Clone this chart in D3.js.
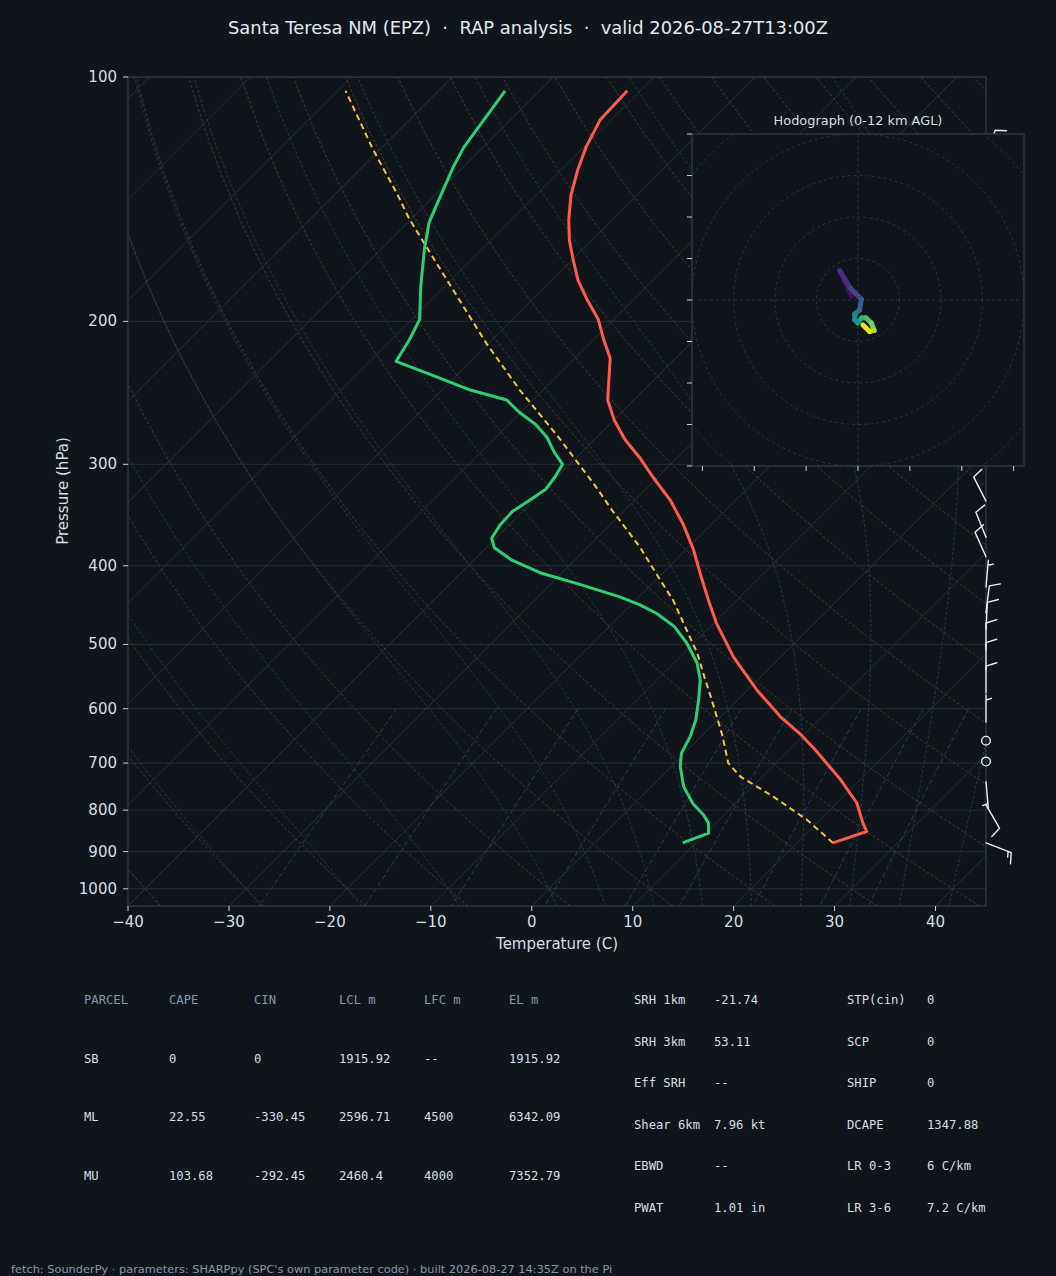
<!DOCTYPE html>
<html>
<head>
<meta charset="utf-8">
<title>Santa Teresa NM (EPZ) sounding</title>
<script src="https://cdn.jsdelivr.net/npm/d3@7/dist/d3.min.js"></script>
<style>
  html, body { margin: 0; padding: 0; background: #10151c; }
  svg { display: block; font-family: "DejaVu Sans", sans-serif; }
</style>
</head>
<body>
<svg id="chart" width="1056" height="1276"></svg>
<script>
// ---- sounding (hPa / degC) ----
const tempP = [878, 850, 830, 784, 734, 704, 674, 646, 614, 569, 518, 471, 441, 413, 382, 355, 332, 311, 294, 280,
               265, 250, 236, 222, 211, 199, 188, 178, 168, 159, 150, 140, 130, 122, 113, 104];
const tempC = [23.6, 25.8, 24.6, 22.0, 18.1, 15.4, 12.6, 9.7, 5.9, 0.9, -4.7, -9.7, -12.8, -15.8, -19.3, -22.9, -26.5, -30.5, -33.8, -36.9,
               -39.9, -42.6, -44.5, -46.5, -48.9, -51.5, -54.6, -57.4, -59.9, -62.2, -64.3, -66.5, -68.4, -69.8, -71.1, -71.3];

const dewP = [878, 854, 830, 811, 785, 748, 707, 681, 649, 619, 585, 553, 527, 498, 475, 458, 447, 437, 422, 408,
              393, 380, 370, 356, 343, 332, 322, 311, 300, 290, 278, 268, 259, 250, 243, 232, 224, 211, 199, 181,
              163, 151, 140, 129, 122, 104];
const dewC = [8.7, 10.3, 9.3, 8.0, 5.8, 3.2, 0.9, -0.3, -1.1, -2.2, -3.9, -5.7, -7.7, -10.7, -13.6, -16.6, -19.1, -21.9, -27.0, -32.2,
              -36.4, -39.2, -40.4, -40.9, -41.0, -40.4, -39.9, -40.2, -40.7, -42.7, -44.9, -47.3, -50.1, -52.6, -57.2, -63.0, -67.4, -68.2, -69.2, -72.4,
              -75.7, -77.9, -79.4, -81.0, -81.9, -83.4];

const parcelP = [878, 822, 770, 727, 700, 649, 625, 585, 553, 512, 480, 441, 409, 379, 342, 318, 296, 276, 260, 243,
                 213, 183, 162, 149, 139, 123, 104];
const parcelC = [23.6, 18.7, 13.1, 7.8, 5.3, 2.1, 0.4, -2.6, -5.2, -8.7, -12.0, -16.3, -20.6, -24.9, -31.2, -35.5, -39.9, -44.2, -48.0, -52.3,
                 -60.2, -68.8, -75.7, -80.4, -84.0, -90.6, -99.2];

// wind barbs down the right edge
const windP   = [878, 788, 738, 697, 657, 623, 574, 537, 508, 479, 457, 425, 390, 369, 333, 300, 250, 200, 150, 125];
const windDir = [111, 150, 175, 0, 0, 0, 0, 0, 0, 3, 7, 5, 336, 338, 333, 340, 330, 320, 330, 20];
const windKt  = [15, 10, 5, 0, 0, 5, 10, 10, 10, 10, 10, 5, 10, 10, 10, 10, 10, 10, 10, 10];

// hodograph trace (kt), coloured by height AGL
const hodoU  = [-1.6, -4.4, -1.8, 0.8, 0.4, -0.8, -0.8, -0.1, 0.9, 1.9, 3.2, 3.9, 2.8, 1.2];
const hodoV  = [1.0, 7.1, 2.8, 0.2, -2.4, -3.4, -4.8, -5.5, -4.3, -4.3, -5.5, -7.3, -7.6, -6.0];
const hodoKm = [0, 1, 2, 3, 4, 5, 5.7, 6.3, 7, 8, 9, 10, 11, 12];

// axis ticks
const pressureTicks = [100, 200, 300, 400, 500, 600, 700, 800, 900, 1000];
const tempTicks = [-40, -30, -20, -10, 0, 10, 20, 30, 40];
const hodoTicksU = [-37.5, -25, -12.5, 0, 12.5, 25, 37.5];
const hodoTicksV = [-40, -30, -20, -10, 0, 10, 20, 30, 40];
const hodoRings = [10, 20, 30, 40, 50];

// parameter table
const tableHeaders = ['PARCEL', 'CAPE', 'CIN', 'LCL m', 'LFC m', 'EL m'];
const parcelNames = ['SB', 'ML', 'MU'];
const parcelCape = ['0', '22.55', '103.68'];
const parcelCin = ['0', '-330.45', '-292.45'];
const parcelLcl = ['1915.92', '2596.71', '2460.4'];
const parcelLfc = ['--', '4500', '4000'];
const parcelEl = ['1915.92', '6342.09', '7352.79'];
const kinLabels = ['SRH 1km', 'SRH 3km', 'Eff SRH', 'Shear 6km', 'EBWD', 'PWAT'];
const kinValues = ['-21.74', '53.11', '--', '7.96 kt', '--', '1.01 in'];
const compLabels = ['STP(cin)', 'SCP', 'SHIP', 'DCAPE', 'LR 0-3', 'LR 3-6'];
const compValues = ['0', '0', '0', '1347.88', '6 C/km', '7.2 C/km'];

const W = 1056, H = 1276;
const BG = '#10151c';
const FRAME = '#333d4b';
const TXT = '#d7dde5';

const svg = d3.select('#chart');
const defs = svg.append('defs');
svg.append('rect').attr('width', W).attr('height', H).attr('fill', BG);

const box = { left: 128, right: 986, top: 77, bottom: 906 };
const x = d3.scaleLinear().domain([-40, 45]).range([box.left, box.right]);
const y = d3.scaleLog().domain([1050, 100]).range([box.bottom, box.top]);
const skew = 1.0; // isotherms at 45 degrees
const sx = (t, p) => x(t) + (box.bottom - y(p)) * skew;
const profLine = d3.line().x(d => sx(d[1], d[0])).y(d => y(d[0]));

defs.append('clipPath').attr('id', 'skewClip').append('rect')
  .attr('x', box.left).attr('y', box.top)
  .attr('width', box.right - box.left).attr('height', box.bottom - box.top);

const bgLayer = svg.append('g').attr('clip-path', 'url(#skewClip)').attr('fill', 'none');

// pressure grid
bgLayer.selectAll('line.pgrid').data(pressureTicks).join('line')
  .attr('x1', box.left).attr('x2', box.right)
  .attr('y1', d => y(d)).attr('y2', d => y(d))
  .attr('stroke', '#262e39').attr('stroke-width', 1);

// isotherms
bgLayer.selectAll('line.iso').data(d3.range(-170, 50, 10)).join('line')
  .attr('x1', d => x(d)).attr('y1', box.bottom)
  .attr('x2', d => x(d) + (box.bottom - box.top) * skew).attr('y2', box.top)
  .attr('stroke', '#29313c').attr('stroke-width', 1);

// dry adiabats
const pLevels = d3.range(60).map(i => 1050 - i * 950 / 59);
const dryT0 = d3.range(-40, 246, 10);
bgLayer.selectAll('path.dry').data(dryT0).join('path')
  .attr('d', t0 => profLine(pLevels.map(p => [p, (t0 + 273.15) * Math.pow(p / 1000, 0.2857) - 273.15])))
  .attr('stroke', '#4a3b2a').attr('stroke-width', 1).attr('stroke-dasharray', '3,2');

// moist adiabats
function moistDTdp(p, T) {
  const Rd = 287.047, Cp = 1004.67, Lv = 2.50084e6, eps = 0.62196;
  const es = 6.112 * Math.exp(17.67 * (T - 273.15) / (T - 29.65));
  const rs = eps * es / Math.max(p - es, 1);
  return (Rd * T + Lv * rs) / (Cp + Lv * Lv * rs * eps / (Rd * T * T)) / p;
}
function rk4(p, T, h) {
  const k1 = moistDTdp(p, T);
  const k2 = moistDTdp(p + h / 2, T + h / 2 * k1);
  const k3 = moistDTdp(p + h / 2, T + h / 2 * k2);
  const k4 = moistDTdp(p + h, T + h * k3);
  return T + h / 6 * (k1 + 2 * k2 + 2 * k3 + k4);
}
function moistCurve(t0) {
  let T = t0 + 273.15;
  const pts = [[1050, rk4(1000, T, 50) - 273.15], [1000, t0]];
  for (let p = 1000; p > 100; p -= 10) {
    T = rk4(p, T, -10);
    pts.push([p - 10, T - 273.15]);
  }
  return pts;
}
const moistT0 = d3.range(-40, 0, 10).concat(d3.range(0, 61, 5));
bgLayer.selectAll('path.moist').data(moistT0).join('path')
  .attr('d', t0 => profLine(moistCurve(t0)))
  .attr('stroke', '#233c46').attr('stroke-width', 1).attr('stroke-dasharray', '3,2');

// mixing ratio lines
const mixW = [0.0004, 0.001, 0.002, 0.004, 0.007, 0.01, 0.016, 0.024, 0.032];
const mixP = d3.range(50).map(i => 600 + i * 450 / 49);
const dewFromW = (p, w) => {
  const l = Math.log(p * w / (0.622 + w) / 6.112);
  return 243.5 * l / (17.67 - l);
};
bgLayer.selectAll('path.mix').data(mixW).join('path')
  .attr('d', w => profLine(mixP.map(p => [p, dewFromW(p, w)])))
  .attr('stroke', '#2b4058').attr('stroke-width', 1).attr('stroke-dasharray', '5,3');

// profiles
const prof = svg.append('g').attr('clip-path', 'url(#skewClip)').attr('fill', 'none')
  .attr('stroke-linejoin', 'round');
prof.append('path').attr('d', profLine(d3.zip(parcelP, parcelC)))
  .attr('stroke', '#f4c542').attr('stroke-width', 2).attr('stroke-dasharray', '6,4');
prof.append('path').attr('d', profLine(d3.zip(dewP, dewC)))
  .attr('stroke', '#2ecf74').attr('stroke-width', 3);
prof.append('path').attr('d', profLine(d3.zip(tempP, tempC)))
  .attr('stroke', '#ff5a4e').attr('stroke-width', 3);

// frame and axes
svg.append('rect').attr('x', box.left).attr('y', box.top)
  .attr('width', box.right - box.left).attr('height', box.bottom - box.top)
  .attr('fill', 'none').attr('stroke', FRAME).attr('stroke-width', 1.2);

const yAx = svg.append('g');
pressureTicks.forEach(p => {
  yAx.append('line').attr('x1', box.left - 5).attr('x2', box.left).attr('y1', y(p)).attr('y2', y(p))
    .attr('stroke', '#c9d1db').attr('stroke-width', 1);
  yAx.append('text').attr('x', box.left - 11).attr('y', y(p)).attr('text-anchor', 'end')
    .attr('dominant-baseline', 'central').attr('font-size', 15).attr('fill', TXT).text(p);
});
const xAx = svg.append('g');
tempTicks.forEach(t => {
  xAx.append('line').attr('x1', x(t)).attr('x2', x(t)).attr('y1', box.bottom).attr('y2', box.bottom + 5)
    .attr('stroke', '#c9d1db').attr('stroke-width', 1);
  xAx.append('text').attr('x', x(t)).attr('y', 922).attr('text-anchor', 'middle')
    .attr('dominant-baseline', 'central').attr('font-size', 15).attr('fill', TXT)
    .text(t < 0 ? '\u2212' + Math.abs(t) : t);
});
svg.append('text').attr('x', 557).attr('y', 944).attr('text-anchor', 'middle')
  .attr('dominant-baseline', 'central').attr('font-size', 15).attr('fill', TXT).text('Temperature (C)');
svg.append('text').attr('transform', 'translate(63,491) rotate(-90)').attr('text-anchor', 'middle')
  .attr('dominant-baseline', 'central').attr('font-size', 15).attr('fill', TXT).text('Pressure (hPa)');

svg.append('text').attr('x', 528).attr('y', 27).attr('text-anchor', 'middle')
  .attr('dominant-baseline', 'central').attr('font-size', 17.9).attr('fill', '#e4e9ef')
  .style('white-space', 'pre')
  .text('Santa Teresa NM (EPZ)  \u00b7  RAP analysis  \u00b7  valid 2026-08-27T13:00Z');

// wind barbs
const barbLen = 27;
const barbs = svg.append('g').attr('stroke', '#e8edf3').attr('stroke-width', 1.4)
  .attr('fill', 'none').attr('stroke-linecap', 'round');
windP.forEach((p, i) => {
  const bx = box.right, by = y(p);
  const kt = Math.round(windKt[i] / 5) * 5;
  if (kt === 0) {
    barbs.append('circle').attr('cx', bx).attr('cy', by).attr('r', 0.16 * barbLen);
    return;
  }
  const a = windDir[i] * Math.PI / 180;
  const s = [Math.sin(a), -Math.cos(a)];
  const q = [-s[1], s[0]];
  const pt = (along, side) => [bx + s[0] * along + q[0] * side, by + s[1] * along + q[1] * side];
  const sp = 0.125 * barbLen, hgt = 0.4 * barbLen, wid = 0.25 * barbLen;
  const segs = [[pt(0, 0), pt(barbLen, 0)]];
  const full = Math.floor(kt / 10), half = kt % 10 >= 5;
  let off = barbLen;
  for (let k = 0; k < full; k++) { segs.push([pt(off, 0), pt(off + wid / 2, hgt)]); off -= sp; }
  if (half) {
    if (full === 0) off -= 1.5 * sp;
    segs.push([pt(off, 0), pt(off + wid / 4, hgt / 2)]);
  }
  barbs.append('path').attr('d', segs.map(sg => 'M' + sg[0] + 'L' + sg[1]).join(''));
});

// hodograph inset
const hodo = { x: 692, y: 134, size: 332 };
const hu = d3.scaleLinear().domain([-40, 40]).range([hodo.x, hodo.x + hodo.size]);
const hv = d3.scaleLinear().domain([-40, 40]).range([hodo.y + hodo.size, hodo.y]);
defs.append('clipPath').attr('id', 'hodoClip').append('rect')
  .attr('x', hodo.x).attr('y', hodo.y).attr('width', hodo.size).attr('height', hodo.size);
const hg = svg.append('g');
hg.append('rect').attr('x', hodo.x).attr('y', hodo.y).attr('width', hodo.size).attr('height', hodo.size)
  .attr('fill', BG);
const hin = hg.append('g').attr('clip-path', 'url(#hodoClip)');
hin.selectAll('circle').data(hodoRings).join('circle')
  .attr('cx', hu(0)).attr('cy', hv(0)).attr('r', d => hu(d) - hu(0))
  .attr('fill', 'none').attr('stroke', '#2c3643').attr('stroke-width', 1).attr('stroke-dasharray', '3,3');
hin.append('line').attr('x1', hodo.x).attr('x2', hodo.x + hodo.size).attr('y1', hv(0)).attr('y2', hv(0))
  .attr('stroke', '#2c3643').attr('stroke-dasharray', '3,3');
hin.append('line').attr('y1', hodo.y).attr('y2', hodo.y + hodo.size).attr('x1', hu(0)).attr('x2', hu(0))
  .attr('stroke', '#2c3643').attr('stroke-dasharray', '3,3');
const hodoPts = d3.zip(hodoU, hodoV, hodoKm);
hin.selectAll('line.trace').data(d3.pairs(hodoPts)).join('line')
  .attr('x1', d => hu(d[0][0])).attr('y1', d => hv(d[0][1]))
  .attr('x2', d => hu(d[1][0])).attr('y2', d => hv(d[1][1]))
  .attr('stroke', d => d3.interpolateViridis((d[0][2] + d[1][2]) / 2 / 12))
  .attr('stroke-width', 5).attr('stroke-linecap', 'round');
hg.append('rect').attr('x', hodo.x).attr('y', hodo.y).attr('width', hodo.size).attr('height', hodo.size)
  .attr('fill', 'none').attr('stroke', FRAME).attr('stroke-width', 1.2);
hodoTicksV.forEach(v => hg.append('line').attr('x1', hodo.x - 5).attr('x2', hodo.x)
  .attr('y1', hv(v)).attr('y2', hv(v)).attr('stroke', '#c9d1db'));
hodoTicksU.forEach(u => hg.append('line').attr('y1', hodo.y + hodo.size).attr('y2', hodo.y + hodo.size + 5)
  .attr('x1', hu(u)).attr('x2', hu(u)).attr('stroke', '#c9d1db'));
hg.append('text').attr('x', hodo.x + hodo.size / 2).attr('y', 120).attr('text-anchor', 'middle')
  .attr('dominant-baseline', 'central').attr('font-size', 12.9).attr('fill', TXT)
  .text('Hodograph (0-12 km AGL)');

// parameter table
const tbl = svg.append('g').attr('font-family', '"DejaVu Sans Mono", monospace').attr('font-size', 12.2)
  .style('white-space', 'pre');
const colX = [84, 169, 254, 339, 424, 509];
const rowY = [1000, 1058.5, 1117, 1175.5];
tableHeaders.forEach((h, i) => tbl.append('text').attr('x', colX[i]).attr('y', rowY[0])
  .attr('dominant-baseline', 'central').attr('fill', '#8796ab').text(h));
[parcelNames, parcelCape, parcelCin, parcelLcl, parcelLfc, parcelEl].forEach((col, c) =>
  col.forEach((v, r) => tbl.append('text').attr('x', colX[c]).attr('y', rowY[r + 1])
    .attr('dominant-baseline', 'central').attr('fill', TXT).text(v)));
const rowY2 = d3.range(6).map(i => 1000 + i * 41.5);
[[kinLabels, 634], [kinValues, 714], [compLabels, 847], [compValues, 927]].forEach(([col, cx]) =>
  col.forEach((v, r) => tbl.append('text').attr('x', cx).attr('y', rowY2[r])
    .attr('dominant-baseline', 'central').attr('fill', TXT).text(v)));

svg.append('text').attr('x', 11).attr('y', 1269).attr('dominant-baseline', 'central')
  .attr('font-size', 11.35).attr('fill', '#8a97a8')
  .text("fetch: SounderPy \u00b7 parameters: SHARPpy (SPC's own parameter code) \u00b7 built 2026-08-27 14:35Z on the Pi");
</script>
</body>
</html>
